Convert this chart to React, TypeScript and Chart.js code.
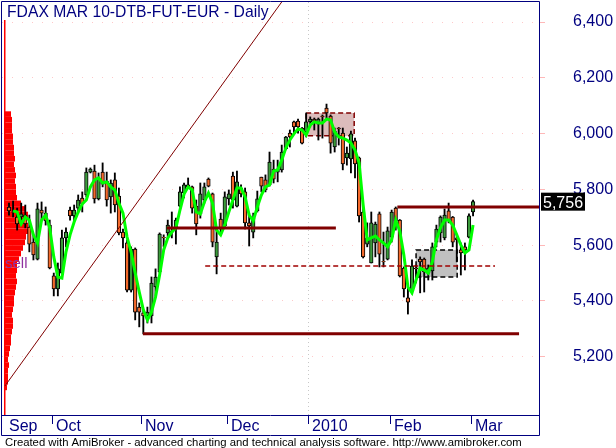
import React, { useEffect, useRef } from 'react';
import { Chart, registerables } from 'chart.js';

Chart.register(...registerables);

const FONT = "'Liberation Sans', Arial, sans-serif";
const NAVY = '#000080';
const UP = '#3c9a3c';
const DOWN = '#f46a2c';

const titleText = 'FDAX MAR 10-DTB-FUT-EUR - Daily';
const footerText = 'Created with AmiBroker - advanced charting and technical analysis software. http://www.amibroker.com';

// Daily bars, 16 Sep 2009 .. 1 Mar 2010 (bar index = position)
const opens = [
  5737, 5720, 5701, 5701, 5708, 5665, 5611, 5550, 5726, 5715,
  5672, 5490, 5443, 5500, 5626, 5726, 5705, 5733, 5769, 5780,
  5862, 5866, 5766, 5862, 5830, 5773, 5834, 5776, 5647, 5608,
  5439, 5586, 5378, 5357, 5346, 5346, 5450, 5504, 5628, 5644,
  5651, 5662, 5740, 5787, 5816, 5809, 5740, 5712, 5762, 5837,
  5784, 5558, 5694, 5669, 5766, 5848, 5740, 5805, 5791, 5680,
  5647, 5723, 5844, 5834, 5816, 5873, 5862, 5870, 5945, 6002,
  6042, 6045, 6020, 6006, 6042, 6052, 6034, 6063, 6092, 6063,
  5952, 6020, 6002, 5913, 5909, 5974, 5913, 5719, 5604, 5536,
  5608, 5712, 5542, 5550, 5629, 5733, 5690, 5518, 5411, 5439,
  5518, 5550, 5550, 5500, 5508, 5611, 5644, 5626, 5723, 5701,
  5626, 5583, 5594, 5629, 5719,
];
const highs = [
  5751, 5758, 5733, 5751, 5744, 5708, 5637, 5751, 5755, 5737,
  5690, 5500, 5536, 5654, 5662, 5737, 5744, 5780, 5791, 5877,
  5877, 5887, 5859, 5895, 5862, 5834, 5859, 5805, 5658, 5619,
  5594, 5590, 5393, 5368, 5378, 5486, 5515, 5644, 5637, 5690,
  5719, 5697, 5809, 5823, 5841, 5812, 5762, 5823, 5823, 5841,
  5787, 5662, 5715, 5791, 5798, 5862, 5866, 5816, 5805, 5715,
  5715, 5794, 5844, 5852, 5934, 5905, 5905, 5959, 5990, 6013,
  6045, 6052, 6022, 6074, 6060, 6056, 6056, 6067, 6106, 6067,
  6020, 6022, 6020, 5952, 6009, 5984, 5916, 5733, 5680, 5719,
  5683, 5719, 5647, 5665, 5726, 5737, 5692, 5522, 5450, 5547,
  5529, 5558, 5554, 5529, 5608, 5672, 5705, 5730, 5751, 5703,
  5637, 5608, 5608, 5712, 5762,
];
const lows = [
  5708, 5701, 5654, 5683, 5662, 5576, 5547, 5547, 5687, 5672,
  5515, 5418, 5418, 5500, 5594, 5690, 5683, 5715, 5719, 5773,
  5859, 5751, 5762, 5809, 5740, 5715, 5719, 5637, 5590, 5432,
  5432, 5332, 5307, 5282, 5321, 5321, 5414, 5500, 5594, 5629,
  5626, 5604, 5737, 5769, 5809, 5715, 5637, 5697, 5751, 5809,
  5594, 5497, 5647, 5662, 5744, 5733, 5737, 5773, 5658, 5597,
  5626, 5719, 5791, 5791, 5812, 5823, 5827, 5862, 5942, 5952,
  6002, 6002, 5963, 5988, 6024, 6013, 5977, 5984, 6056, 5930,
  5934, 5959, 5870, 5887, 5859, 5841, 5683, 5554, 5594, 5536,
  5558, 5522, 5522, 5547, 5611, 5654, 5486, 5414, 5353, 5425,
  5465, 5429, 5432, 5475, 5475, 5594, 5611, 5619, 5680, 5594,
  5540, 5493, 5511, 5626, 5705,
];
const closes = [
  5723, 5718, 5676, 5712, 5676, 5604, 5565, 5730, 5715, 5687,
  5518, 5443, 5515, 5626, 5647, 5705, 5726, 5762, 5748, 5862,
  5873, 5766, 5841, 5819, 5762, 5823, 5744, 5644, 5626, 5439,
  5586, 5360, 5360, 5346, 5360, 5464, 5486, 5640, 5626, 5672,
  5647, 5690, 5791, 5816, 5809, 5733, 5676, 5784, 5809, 5812,
  5611, 5611, 5662, 5773, 5784, 5762, 5827, 5784, 5680, 5669,
  5697, 5766, 5812, 5798, 5898, 5837, 5873, 5934, 5988, 5988,
  6024, 6024, 5966, 6042, 6052, 6045, 6052, 6060, 6074, 5966,
  6009, 6017, 5891, 5930, 5999, 5891, 5705, 5558, 5626, 5680,
  5676, 5568, 5540, 5651, 5719, 5687, 5490, 5443, 5396, 5525,
  5515, 5540, 5504, 5518, 5594, 5658, 5701, 5708, 5690, 5611,
  5619, 5572, 5583, 5705, 5756,
];
// green moving-average line
const maLine = [
  null, 5723, 5719, 5676, 5701, 5690, 5637, 5608, 5690, 5708,
  5662, 5558, 5486, 5482, 5576, 5637, 5683, 5719, 5748, 5762,
  5809, 5834, 5841, 5823, 5827, 5809, 5798, 5751, 5715, 5629,
  5576, 5500, 5432, 5368, 5332, 5360, 5414, 5493, 5583, 5626,
  5647, 5662, 5726, 5783, 5809, 5798, 5719, 5712, 5755, 5787,
  5751, 5654, 5637, 5672, 5719, 5762, 5805, 5805, 5773, 5708,
  5687, 5737, 5780, 5809, 5816, 5866, 5870, 5905, 5948, 5977,
  5999, 6017, 6013, 5995, 6031, 6042, 6038, 6038, 6052, 6049,
  6006, 5988, 5984, 5977, 5966, 5941, 5895, 5744, 5619, 5626,
  5633, 5619, 5608, 5594, 5619, 5690, 5650, 5565, 5450, 5429,
  5475, 5518, 5511, 5500, 5540, 5619, 5662, 5690, 5690, 5672,
  5637, 5601, 5572, 5583, 5672,
];

// x-axis: first bar of each month
const monthStartBars = [11, 33, 54, 74, 94, 114];
const monthNames = ['Oct', 'Nov', 'Dec', '2010', 'Feb', 'Mar'];
const leadMonthName = 'Sep';
const yearBreakBar = 74;
const priceTicks = [5200, 5400, 5600, 5800, 6000, 6200, 6400];

// volume-at-price profile
const profilePrices = [
  5090, 5110, 5130, 5150, 5170, 5190, 5210, 5230, 5250, 5270,
  5290, 5310, 5330, 5350, 5370, 5390, 5410, 5430, 5450, 5470,
  5490, 5510, 5530, 5550, 5570, 5590, 5610, 5630, 5650, 5670,
  5690, 5710, 5730, 5750, 5770, 5790, 5810, 5830, 5850, 5870,
  5890, 5910, 5930, 5950, 5970, 5990, 6010, 6030, 6050, 6070,
];
const profileVolumes = [
  3, 4, 4, 4, 5, 4, 5, 6, 7, 7,
  8, 9, 9, 8, 9, 10, 10, 11, 12, 13,
  12, 13, 13, 15, 17, 19, 21, 22, 24, 24,
  23, 24, 22, 17, 13, 12, 12, 11, 12, 11,
  10, 11, 10, 10, 9, 9, 8, 8, 8, 7,
];

// drawn studies
const trendBars = [-1, 70];
const trendPrices = [5095, 6533];
const levelPrices = [5662, 5282, 5737];
const levelFromBars = [38.8, 32.9, 95.4];
const levelToBars = [80.3, 125.3, 135];
const dashedLevel = 5525;
const dashedFromBar = 48.2;
const dashedToBar = 119.4;
const boxFromBars = [73, 100];
const boxToBars = [84.8, 110.1];
const boxLowPrices = [5992, 5486];
const boxHighPrices = [6074, 5583];
const boxFills = ['#dcbcbc', '#c0c0c0'];
const boxEdges = ['#800000', '#000000'];

const decorPlugin = {
  id: 'decor',
  beforeDraw(chart: any) {
    const { ctx, width, height } = chart;
    ctx.save();
    ctx.fillStyle = '#ffffff';
    ctx.fillRect(0, 0, width, height);
    ctx.restore();
  },
  beforeDatasetsDraw(chart: any) {
    const { ctx, chartArea: a, scales } = chart;
    const xs = scales.x;
    const ys = scales.y;
    ctx.save();
    // year break dotted line
    const xb = Math.round(xs.getPixelForValue(yearBreakBar - 0.5)) + 0.5;
    ctx.strokeStyle = '#c8c8c8';
    ctx.lineWidth = 1;
    ctx.setLineDash([1, 3]);
    ctx.beginPath();
    ctx.moveTo(xb, a.top);
    ctx.lineTo(xb, a.bottom);
    ctx.stroke();
    ctx.setLineDash([]);
    // profile
    const maxV = Math.max(...profileVolumes);
    const maxW = a.width * 0.0447;
    ctx.fillStyle = '#ff0000';
    const half = (profilePrices[1] - profilePrices[0]) / 2;
    profilePrices.forEach((p, k) => {
      const yt = ys.getPixelForValue(p + half);
      const yb = ys.getPixelForValue(p - half);
      const w = (profileVolumes[k] / maxV) * maxW;
      ctx.fillRect(a.left + 2, yt, w, yb - yt);
    });
    ctx.fillRect(a.left + 2, a.top + 18, 1.5, a.bottom - a.top - 18);
    // boxes
    boxFromBars.forEach((b, k) => {
      const x0 = xs.getPixelForValue(b);
      const x1 = xs.getPixelForValue(boxToBars[k]);
      const y0 = ys.getPixelForValue(boxHighPrices[k]);
      const y1 = ys.getPixelForValue(boxLowPrices[k]);
      ctx.fillStyle = boxFills[k];
      ctx.fillRect(x0, y0, x1 - x0, y1 - y0);
      ctx.strokeStyle = boxEdges[k];
      ctx.lineWidth = 1.5;
      ctx.setLineDash([5, 3]);
      ctx.strokeRect(x0, y0, x1 - x0, y1 - y0);
      ctx.setLineDash([]);
    });
    ctx.restore();
  },
  afterDraw(chart: any) {
    const { ctx, chartArea: a, scales } = chart;
    const xs = scales.x;
    const ys = scales.y;
    ctx.save();
    // frame
    ctx.strokeStyle = NAVY;
    ctx.lineWidth = 1;
    ctx.beginPath();
    ctx.moveTo(1.5, 1.5);
    ctx.lineTo(a.right + 0.5, 1.5);
    ctx.lineTo(a.right + 0.5, 435.5);
    ctx.lineTo(1.5, 435.5);
    ctx.closePath();
    ctx.moveTo(1.5, a.bottom + 0.5);
    ctx.lineTo(a.right + 0.5, a.bottom + 0.5);
    ctx.stroke();
    // title
    ctx.fillStyle = NAVY;
    ctx.font = `15.7px ${FONT}`;
    ctx.textBaseline = 'alphabetic';
    ctx.textAlign = 'left';
    ctx.fillText(titleText, 7, 17);
    // x axis labels
    ctx.font = `16px ${FONT}`;
    ctx.fillText(leadMonthName, a.left + 7, 431);
    monthStartBars.forEach((b, k) => {
      const sx = Math.round(xs.getPixelForValue(b - 0.5)) + 0.5;
      ctx.beginPath();
      ctx.moveTo(sx, a.bottom);
      ctx.lineTo(sx, a.bottom + 9);
      ctx.stroke();
      ctx.fillText(monthNames[k], sx + 3.5, 431);
    });
    // purple signal text
    ctx.fillStyle = '#9030a0';
    ctx.font = `15px ${FONT}`;
    ctx.fillText('sell', 5, 268);
    // last price label
    const last = closes[closes.length - 1];
    const yl = ys.getPixelForValue(last);
    ctx.font = `16px ${FONT}`;
    ctx.fillStyle = '#000000';
    ctx.fillRect(a.right + 2, yl - 9, 44, 18);
    ctx.fillStyle = '#ffffff';
    ctx.fillText(last.toLocaleString('en-US'), a.right + 4, yl + 6);
    // footer
    ctx.fillStyle = '#000000';
    ctx.font = `11.3px ${FONT}`;
    ctx.fillText(footerText, 5, 446);
    ctx.restore();
  },
};

export default function App() {
  const ref = useRef<HTMLCanvasElement>(null);
  useEffect(() => {
    const canvas = ref.current;
    if (!canvas) return;
    const idx = closes.map((_, i) => i);
    const bodies = idx.map((i) => ({ x: i, y: [Math.min(opens[i], closes[i]), Math.max(opens[i], closes[i])] }));
    const bodyColors = idx.map((i) => (closes[i] >= opens[i] ? UP : DOWN));
    const wicks = idx.map((i) => ({ x: i, y: [lows[i], highs[i]] }));
    const ma = idx.map((i) => ({ x: i, y: maLine[i] }));
    const levelSets = levelPrices.map((p, k) => ({
      type: 'line',
      data: [{ x: levelFromBars[k], y: p }, { x: levelToBars[k], y: p }],
      borderColor: '#800000',
      borderWidth: 3,
      pointRadius: 0,
      borderCapStyle: 'butt',
      order: 1,
    }));
    const chart = new Chart(canvas, {
      type: 'bar',
      data: {
        datasets: [
          {
            type: 'bar',
            data: wicks as any,
            backgroundColor: '#000000',
            borderWidth: 0,
            barThickness: 1.2,
            grouped: false,
            order: 10,
          },
          {
            type: 'bar',
            data: bodies as any,
            backgroundColor: bodyColors,
            borderColor: '#000000',
            borderWidth: 1,
            borderSkipped: false,
            barThickness: 3.6,
            grouped: false,
            order: 9,
          },
          {
            type: 'line',
            data: ma as any,
            borderColor: '#00ff00',
            borderWidth: 3,
            pointRadius: 0,
            order: 3,
          },
          {
            type: 'line',
            data: trendBars.map((b, k) => ({ x: b, y: trendPrices[k] })),
            borderColor: '#800000',
            borderWidth: 1,
            pointRadius: 0,
            order: 2,
          },
          {
            type: 'line',
            data: [{ x: dashedFromBar, y: dashedLevel }, { x: dashedToBar, y: dashedLevel }],
            borderColor: '#a00000',
            borderWidth: 1.5,
            borderDash: [5, 3],
            pointRadius: 0,
            order: 1,
          },
          ...(levelSets as any[]),
        ],
      },
      options: {
        animation: false,
        responsive: false,
        events: [],
        layout: { padding: { left: 2, top: 2, right: 0, bottom: 33 } },
        plugins: { legend: { display: false }, tooltip: { enabled: false }, title: { display: false } },
        scales: {
          x: { type: 'linear', min: -1.72, max: 130.2, display: false, offset: false },
          y: {
            type: 'linear',
            position: 'right',
            min: 4991,
            max: 6472,
            afterFit: (s: any) => {
              s.width = 77;
              s.paddingTop = 0;
              s.paddingBottom = 0;
            },
            afterBuildTicks: (s: any) => {
              s.ticks = priceTicks.map((v) => ({ value: v }));
            },
            ticks: {
              color: NAVY,
              font: { family: FONT, size: 16 },
              padding: 28,
              callback: (v: any) => Number(v).toLocaleString('en-US'),
            },
            grid: { color: '#ffc8c8', lineWidth: 1, tickLength: 6, tickColor: '#ffb8b8', drawTicks: true },
            border: { display: false, dash: [1, 9] },
          },
        },
      } as any,
      plugins: [decorPlugin],
    });
    return () => chart.destroy();
  }, []);
  return (
    <div style={{ position: 'fixed', left: 0, top: 0, width: 616, height: 448, background: '#fff' }}>
      <canvas ref={ref} width={616} height={448} style={{ width: 616, height: 448 }} />
    </div>
  );
}
